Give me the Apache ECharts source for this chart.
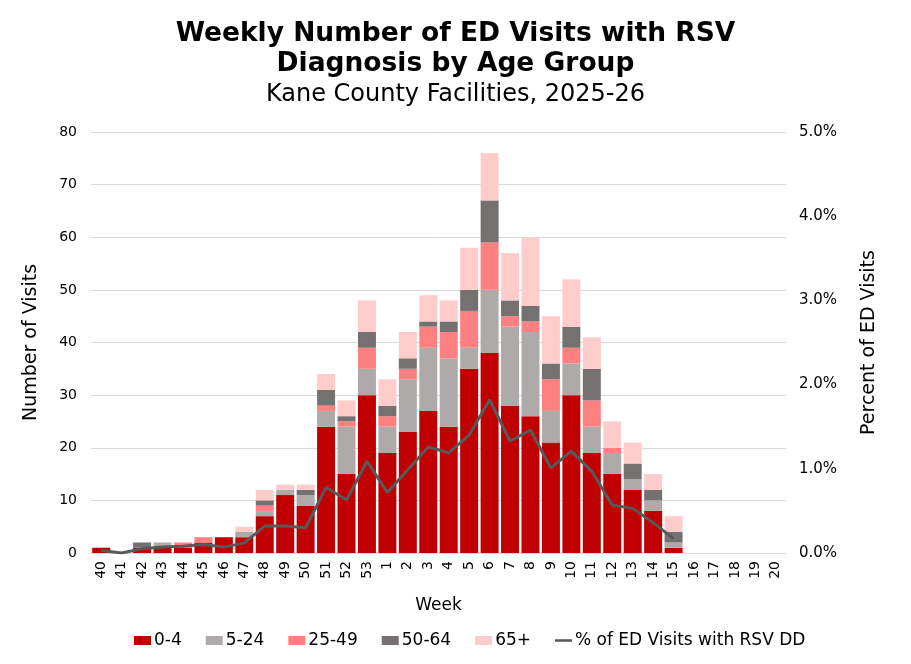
<!DOCTYPE html>
<html>
<head>
<meta charset="utf-8">
<script src="https://cdn.jsdelivr.net/npm/echarts@6/dist/echarts.min.js"></script>
<style>
  html, body { margin: 0; padding: 0; background: #fff; }
  #chart { width: 911px; height: 664px; }
</style>
</head>
<body>
<div id="chart"></div>
<script>
// weeks of the 2025-26 season
const weeks = ['40','41','42','43','44','45','46','47','48','49','50','51','52','53',
  '1','2','3','4','5','6','7','8','9','10','11','12','13','14','15','16','17','18','19','20'];

// visits by age group
const age0to4 = [1,0,1,1,1,2,3,3,7,11,9,24,15,30,19,23,27,24,35,38,28,26,21,30,19,15,12,8,1,0,0,0,0,0];
const age5to24 = [0,0,0,1,0,0,0,1,1,1,2,3,9,5,5,10,12,13,4,12,15,16,6,6,5,4,2,2,1,0,0,0,0,0];
const age25to49 = [0,0,0,0,1,1,0,0,1,0,0,1,1,4,2,2,4,5,7,9,2,2,6,3,5,1,0,0,0,0,0,0,0,0];
const age50to64 = [0,0,1,0,0,0,0,0,1,0,1,3,1,3,2,2,1,2,4,8,3,3,3,4,6,0,3,2,2,0,0,0,0,0];
const age65plus = [0,0,0,0,0,0,0,1,2,1,1,3,3,6,5,5,5,4,8,9,9,13,9,9,6,5,4,3,3,0,0,0,0,0];

// % of ED visits with RSV diagnosis (ends at week 15)
const pctRsv = [0.03,0.0,0.05,0.07,0.08,0.10,0.07,0.12,0.32,0.32,0.30,0.78,0.63,1.09,
  0.72,0.99,1.26,1.19,1.40,1.82,1.33,1.46,1.01,1.21,0.97,0.57,0.53,0.36,0.17];

const font = 'DejaVu Sans';

const chart = echarts.init(document.getElementById('chart'));

function barSeries(name, data, color) {
  return {
    name: name,
    type: 'bar',
    stack: 'visits',
    data: data,
    barCategoryGap: '12%',
    itemStyle: { color: color },
    emphasis: { disabled: true }
  };
}

const option = {
  backgroundColor: '#fff',
  animation: false,
  textStyle: { fontFamily: font, color: '#000' },
  title: {
    text: 'Weekly Number of ED Visits with RSV\nDiagnosis by Age Group',
    subtext: 'Kane County Facilities, 2025-26',
    left: 'center',
    top: 14,
    itemGap: 4,
    textStyle: { fontFamily: font, fontSize: 26.5, fontWeight: 'bold', color: '#000', lineHeight: 30 },
    subtextStyle: { fontFamily: font, fontSize: 24, color: '#000' }
  },
  legend: {
    bottom: 10,
    left: 129,
    itemGap: 24,
    itemWidth: 17,
    itemHeight: 9,
    textStyle: { fontFamily: font, fontSize: 17, color: '#000', padding: [0, 0, 0, -2] },
    data: [
      { name: '0-4', icon: 'rect' },
      { name: '5-24', icon: 'rect' },
      { name: '25-49', icon: 'rect' },
      { name: '50-64', icon: 'rect' },
      { name: '65+', icon: 'rect' },
      { name: '% of ED Visits with RSV DD', icon: 'path://M0 0H20V3H0Z' }
    ]
  },
  grid: { left: 91, right: 125, top: 132, bottom: 111 },
  xAxis: {
    type: 'category',
    data: weeks,
    name: 'Week',
    nameLocation: 'middle',
    nameGap: 44,
    nameTextStyle: { fontFamily: font, fontSize: 17, color: '#000' },
    axisLine: { lineStyle: { color: '#d9d9d9' } },
    axisTick: { show: false },
    axisLabel: { rotate: 90, fontFamily: font, fontSize: 14, color: '#000', margin: 8 }
  },
  yAxis: [
    {
      type: 'value',
      min: 0,
      max: 80,
      interval: 10,
      name: 'Number of Visits',
      nameLocation: 'middle',
      nameGap: 50,
      nameTextStyle: { fontFamily: font, fontSize: 19, color: '#000' },
      axisLabel: { fontFamily: font, fontSize: 14, color: '#000', margin: 14 },
      axisLine: { show: false },
      axisTick: { show: false },
      splitLine: { lineStyle: { color: '#d9d9d9' } }
    },
    {
      type: 'value',
      min: 0,
      max: 5,
      interval: 1,
      name: 'Percent of ED Visits',
      nameLocation: 'middle',
      nameGap: 74,
      nameRotate: 90,
      nameTextStyle: { fontFamily: font, fontSize: 19, color: '#000' },
      axisLabel: { fontFamily: font, fontSize: 15, color: '#000', margin: 13,
        formatter: v => v.toFixed(1) + '%' },
      axisLine: { show: false },
      axisTick: { show: false },
      splitLine: { show: false }
    }
  ],
  series: [
    barSeries('0-4', age0to4, '#C00000'),
    barSeries('5-24', age5to24, '#AEAAAA'),
    barSeries('25-49', age25to49, '#FF8080'),
    barSeries('50-64', age50to64, '#767171'),
    barSeries('65+', age65plus, '#FFCCCC'),
    {
      name: '% of ED Visits with RSV DD',
      type: 'line',
      yAxisIndex: 1,
      data: pctRsv,
      symbol: 'none',
      lineStyle: { color: '#595959', width: 3 },
      itemStyle: { color: '#595959' },
      emphasis: { disabled: true }
    }
  ]
};

chart.setOption(option);
</script>
</body>
</html>
